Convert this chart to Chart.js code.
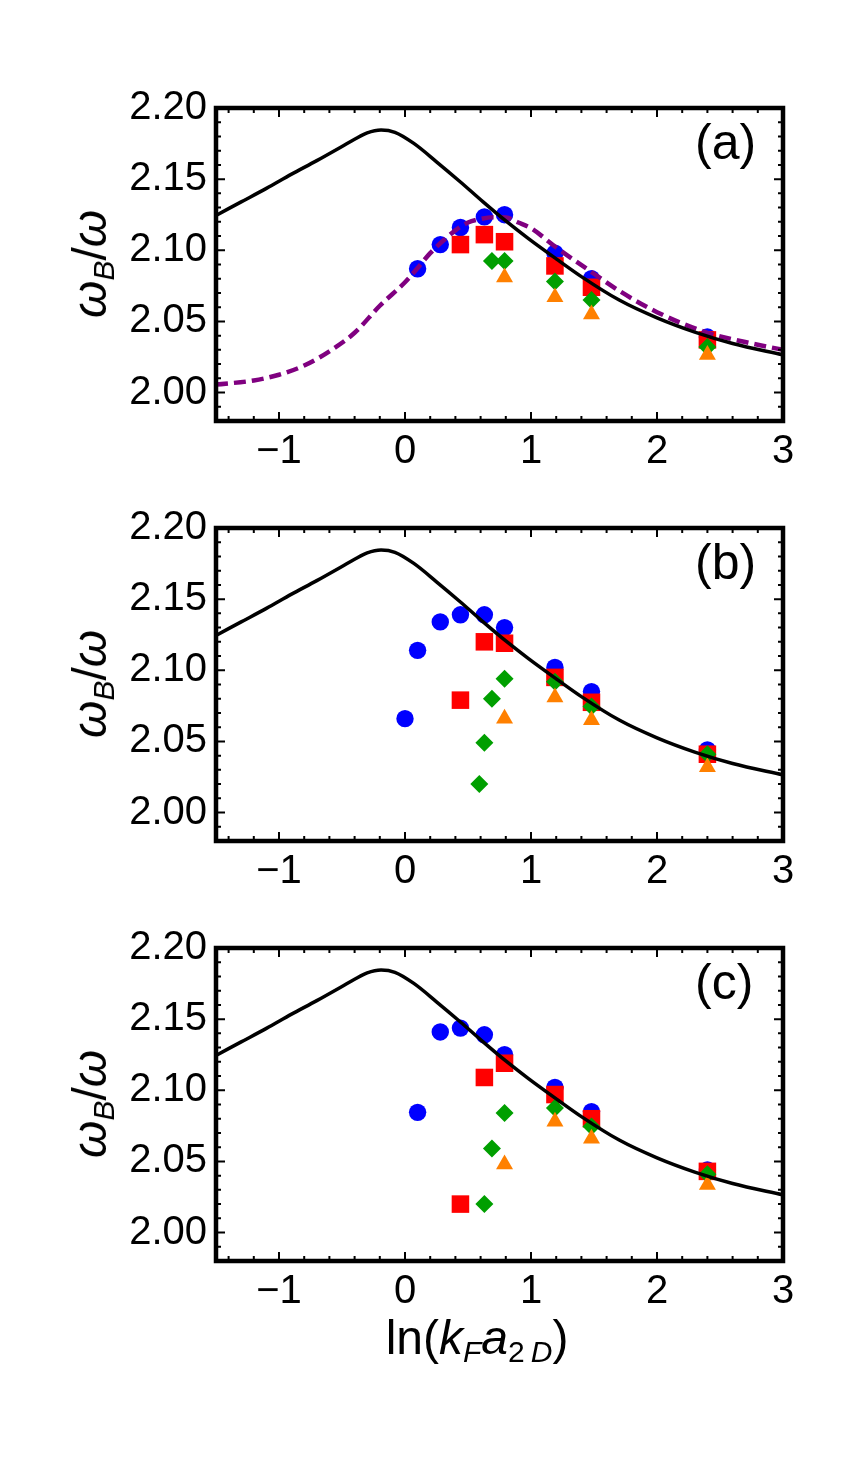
<!DOCTYPE html>
<html>
<head>
<meta charset="utf-8">
<script src="https://cdn.jsdelivr.net/npm/chart.js@4.4.0/dist/chart.umd.min.js"></script>
<style>
  body { margin: 0; background: #fff; }
  #wrap { position: relative; width: 857px; height: 1459px; font-family: "Liberation Sans", Arial, sans-serif; color: #000; }
  canvas { position: absolute; left: 0; }
  .panel { position: absolute; left: 695px; font-size: 50px; line-height: 1; }
  .ytitle { position: absolute; left: 90px; font-size: 48px; line-height: 1; white-space: nowrap;
            transform: translate(-50%, -50%) rotate(-90deg); }
  .xtitle { position: absolute; left: 277px; width: 400px; top: 1314px; text-align: center;
            font-size: 48px; line-height: 1; white-space: nowrap; }
  .sb { font-size: 30px; position: relative; top: 8px; }
</style>
</head>
<body>
<div id="wrap">
  <canvas id="chartA" width="857" height="460" style="top:28px"></canvas>
  <canvas id="chartB" width="857" height="460" style="top:448px"></canvas>
  <canvas id="chartC" width="857" height="460" style="top:868px"></canvas>

  <div class="panel" style="top:117px">(a)</div>
  <div class="panel" style="top:537px">(b)</div>
  <div class="panel" style="top:957px">(c)</div>

  <div class="ytitle" style="top:264px"><i>ω</i><span class="sb"><i>B</i></span>/<i>ω</i></div>
  <div class="ytitle" style="top:684px"><i>ω</i><span class="sb"><i>B</i></span>/<i>ω</i></div>
  <div class="ytitle" style="top:1104px"><i>ω</i><span class="sb"><i>B</i></span>/<i>ω</i></div>

  <div class="xtitle">ln(<i>k</i><span class="sb"><i>F</i></span><i>a</i><span class="sb">2&thinsp;<i>D</i></span>)</div>
</div>

<script>
// axis ticks
const xTicks = [-1, 0, 1, 2, 3];
const yTicks = [2.00, 2.05, 2.10, 2.15, 2.20];

// theory curve (solid black), same in all panels
const theory = [[-1.5, 2.1245], [-1.3, 2.134], [-1.1, 2.1435], [-0.9, 2.1535], [-0.7, 2.163], [-0.5, 2.173],
  [-0.4, 2.178], [-0.3, 2.1825], [-0.19, 2.1845], [-0.08, 2.1829], [0.07, 2.1751], [0.25, 2.1622],
  [0.44, 2.148], [0.62, 2.134], [0.8, 2.1206], [0.98, 2.1082], [1.2, 2.094], [1.4, 2.0815],
  [1.7, 2.065], [2.0, 2.0525], [2.3, 2.0425], [2.6, 2.0345], [3.0, 2.0265]];

// dashed purple curve, panel (a) only
const dashed = [[-1.5, 2.0056], [-1.2, 2.0085], [-1.0, 2.0125], [-0.8, 2.019], [-0.6, 2.029], [-0.4, 2.042],
  [-0.2, 2.061], [0.0, 2.0775], [0.1, 2.0875], [0.2, 2.098], [0.3, 2.1065], [0.4, 2.114], [0.5, 2.1195],
  [0.6, 2.122], [0.7, 2.1232], [0.8, 2.123], [0.9, 2.1195], [1.0, 2.1155], [1.2, 2.102], [1.5, 2.0835],
  [1.7, 2.0715], [2.0, 2.0565], [2.4, 2.042], [2.7, 2.0355], [3.0, 2.0300]];

// panel (a) points
const blueA = [[0.10, 2.087], [0.28, 2.104], [0.44, 2.116], [0.63, 2.1235], [0.79, 2.125], [1.19, 2.098], [1.48, 2.080], [2.40, 2.039]];
const redA = [[0.44, 2.104], [0.63, 2.111], [0.79, 2.106], [1.19, 2.089], [1.48, 2.074], [2.40, 2.037]];
const greenA = [[0.69, 2.0925], [0.79, 2.0925], [1.19, 2.078], [1.48, 2.065], [2.40, 2.032]];
const orangeA = [[0.79, 2.081], [1.19, 2.067], [1.48, 2.055], [2.40, 2.0265]];

// panel (b) points
const blueB = [[0.00, 2.066], [0.10, 2.114], [0.28, 2.134], [0.44, 2.139], [0.63, 2.139], [0.79, 2.130], [1.19, 2.102], [1.48, 2.085], [2.40, 2.044]];
const redB = [[0.44, 2.079], [0.63, 2.120], [0.79, 2.119], [1.19, 2.095], [1.48, 2.0775], [2.40, 2.041]];
const greenB = [[0.59, 2.020], [0.63, 2.049], [0.69, 2.080], [0.79, 2.094], [1.19, 2.092], [1.48, 2.0746], [2.40, 2.041]];
const orangeB = [[0.79, 2.066], [1.19, 2.081], [1.48, 2.065], [2.40, 2.032]];

// panel (c) points
const blueC = [[0.10, 2.0845], [0.28, 2.141], [0.44, 2.1437], [0.63, 2.139], [0.79, 2.125], [1.19, 2.102], [1.48, 2.085], [2.40, 2.044]];
const redC = [[0.44, 2.020], [0.63, 2.109], [0.79, 2.119], [1.19, 2.097], [1.48, 2.080], [2.40, 2.043]];
const greenC = [[0.63, 2.020], [0.69, 2.059], [0.79, 2.084], [1.19, 2.0876], [1.48, 2.0746], [2.40, 2.041]];
const orangeC = [[0.79, 2.048], [1.19, 2.078], [1.48, 2.066], [2.40, 2.0336]];

const toXY = arr => arr.map(p => ({ x: p[0], y: p[1] }));

// frame with inward major/minor ticks, like the original
const framePlugin = {
  id: "frame",
  afterDatasetsDraw(chart) {
    const { ctx, chartArea: a, scales: { x, y } } = chart;
    ctx.save();
    ctx.strokeStyle = "#000";
    ctx.lineWidth = 2;
    ctx.beginPath();
    for (let i = -7; i <= 15; i++) {
      const v = i * 0.2;
      const len = Math.abs(v - Math.round(v)) < 1e-6 ? 9 : 5;
      const px = x.getPixelForValue(v);
      ctx.moveTo(px, a.bottom); ctx.lineTo(px, a.bottom - len);
      ctx.moveTo(px, a.top); ctx.lineTo(px, a.top + len);
    }
    for (let i = 198; i <= 220; i++) {
      const len = i % 5 === 0 ? 9 : 5;
      const py = y.getPixelForValue(i / 100);
      ctx.moveTo(a.left, py); ctx.lineTo(a.left + len, py);
      ctx.moveTo(a.right, py); ctx.lineTo(a.right - len, py);
    }
    ctx.stroke();
    ctx.lineWidth = 4.5;
    ctx.strokeRect(a.left, a.top, a.right - a.left, a.bottom - a.top);
    ctx.restore();
  }
};

function pointSet(data, color, style, radius, order) {
  return {
    data: toXY(data), showLine: false, order: order,
    pointStyle: style, pointRadius: radius, pointHoverRadius: radius,
    backgroundColor: color, borderColor: color, pointBorderWidth: 0
  };
}

function makePanel(id, blue, red, green, orange, withDashed) {
  const datasets = [
    { data: toXY(theory), showLine: true, pointRadius: 0, borderColor: "#000", borderWidth: 3.5,
      cubicInterpolationMode: "monotone", order: 0 }
  ];
  if (withDashed) {
    datasets.push({ data: toXY(dashed), showLine: true, pointRadius: 0, borderColor: "#800080",
      borderWidth: 4.5, borderDash: [12, 6], cubicInterpolationMode: "monotone", order: 1 });
  }
  datasets.push(pointSet(orange, "#FF8000", "triangle", 9.8, 2));
  datasets.push(pointSet(green, "#009F00", "rectRot", 9, 3));
  datasets.push(pointSet(red, "#FF0000", "rect", 12.4, 4));
  datasets.push(pointSet(blue, "#0000FF", "circle", 8.7, 5));

  const tickFont = { family: "Liberation Sans", size: 40 };
  new Chart(document.getElementById(id).getContext("2d"), {
    type: "scatter",
    data: { datasets: datasets },
    options: {
      responsive: false,
      animation: false,
      layout: { padding: { left: 0, top: 80, right: 74, bottom: 0 } },
      plugins: { legend: { display: false }, tooltip: { enabled: false } },
      scales: {
        x: {
          type: "linear", min: -1.5, max: 3,
          grid: { display: false, drawTicks: false },
          border: { display: false },
          afterBuildTicks: s => { s.ticks = xTicks.map(v => ({ value: v })); },
          afterFit: s => { s.height = 67; },
          ticks: { font: tickFont, color: "#000", padding: 7, maxRotation: 0, autoSkip: false,
            callback: v => (v < 0 ? "\u2212" + Math.abs(v) : String(v)) }
        },
        y: {
          type: "linear", min: 1.98, max: 2.2,
          grid: { display: false, drawTicks: false },
          border: { display: false },
          afterBuildTicks: s => { s.ticks = yTicks.map(v => ({ value: v })); },
          afterFit: s => { s.width = 216; },
          ticks: { font: tickFont, color: "#000", padding: 9, autoSkip: false,
            callback: v => v.toFixed(2) }
        }
      }
    },
    plugins: [framePlugin]
  });
}

makePanel("chartA", blueA, redA, greenA, orangeA, true);
makePanel("chartB", blueB, redB, greenB, orangeB, false);
makePanel("chartC", blueC, redC, greenC, orangeC, false);
</script>
</body>
</html>
